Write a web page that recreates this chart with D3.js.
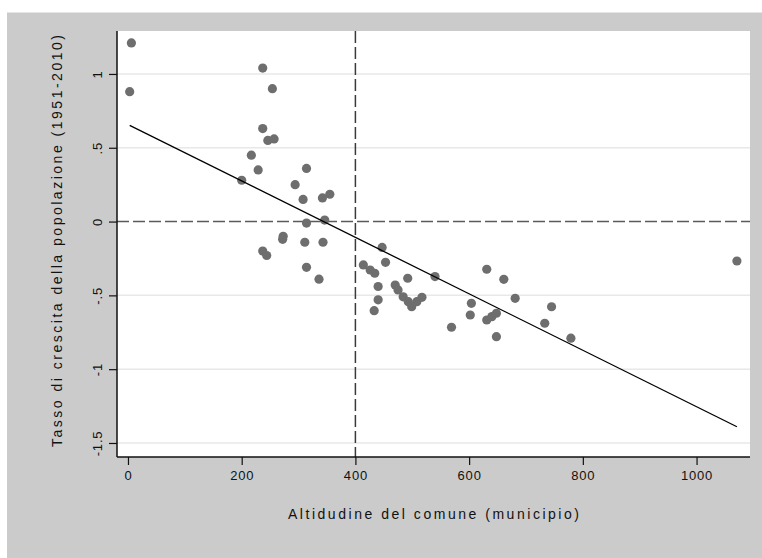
<!DOCTYPE html>
<html>
<head>
<meta charset="utf-8">
<script src="https://cdn.jsdelivr.net/npm/d3@7"></script>
<style>
  html, body { margin: 0; padding: 0; background: #fff; }
  text { font-family: "Liberation Sans", Arial, sans-serif; fill: #111; }
</style>
</head>
<body>
<div id="chart"></div>
<script>
const WIDTH = 762;
const HEIGHT = 558;

// plot box (white area)
const LEFT = 117, RIGHT = 750, TOP = 31, BOTTOM = 457;

// altitude (m) of each comune
const altitude = [
  6, 3, 237, 254, 237, 246, 257, 217, 229, 314,
  200, 294, 308, 342, 355, 314, 346, 273, 272, 311,
  343, 237, 244, 314, 336, 447, 453, 414, 426, 434,
  440, 440, 433, 470, 475, 484, 493, 499, 508, 517,
  492, 540, 604, 602, 569, 631, 661, 681, 631, 640,
  648, 648, 733, 745, 779, 1071
];

// population growth rate 1951-2010
const growth = [
  1.21, 0.88, 1.04, 0.90, 0.63, 0.55, 0.56, 0.45, 0.35, 0.36,
  0.28, 0.25, 0.15, 0.16, 0.185, -0.01, 0.01, -0.10, -0.12, -0.14,
  -0.14, -0.20, -0.23, -0.31, -0.39, -0.175, -0.276, -0.294, -0.328, -0.35,
  -0.44, -0.53, -0.604, -0.43, -0.463, -0.51, -0.543, -0.577, -0.543, -0.513,
  -0.384, -0.373, -0.554, -0.633, -0.716, -0.323, -0.391, -0.52, -0.667, -0.644,
  -0.621, -0.78, -0.689, -0.577, -0.79, -0.267
];

// fitted line end points
const fitX = [3, 1071];
const fitY = [0.652, -1.39];

const xTicks = [0, 200, 400, 600, 800, 1000];
const yTicks = [-1.5, -1, -0.5, 0, 0.5, 1];
const yTickLabels = ["-1.5", "-1", "-.5", "0", ".5", "1"];

const refX = 400;   // vertical dashed line
const refY = 0;     // horizontal dashed line

const xTitle = "Altidudine del comune (municipio)";
const yTitle = "Tasso di crescita della popolazione (1951-2010)";

const svg = d3.select("#chart")
  .append("svg")
  .attr("width", WIDTH)
  .attr("height", HEIGHT);

// outer gray panel
svg.append("rect")
  .attr("x", 0).attr("y", 0)
  .attr("width", WIDTH).attr("height", HEIGHT)
  .attr("fill", "#ffffff");
svg.append("rect")
  .attr("x", 7).attr("y", 12)
  .attr("width", WIDTH - 7).attr("height", 2)
  .attr("fill", "#e6e6e6");
svg.append("rect")
  .attr("x", 7).attr("y", 13)
  .attr("width", WIDTH - 7).attr("height", HEIGHT - 13)
  .attr("fill", "#cbcbcb");

svg.append("rect")
  .attr("x", LEFT).attr("y", TOP)
  .attr("width", RIGHT - LEFT).attr("height", BOTTOM - TOP)
  .attr("fill", "#ffffff");

const x = d3.scaleLinear()
  .domain([-19.3, 1094])
  .range([LEFT, RIGHT]);

const y = d3.scaleLinear()
  .domain([-1.595, 1.291])
  .range([BOTTOM, TOP]);

// light grid lines
svg.append("g")
  .selectAll("line")
  .data(yTicks.filter(d => d !== refY))
  .enter()
  .append("line")
  .attr("x1", LEFT).attr("x2", RIGHT)
  .attr("y1", d => y(d)).attr("y2", d => y(d))
  .attr("stroke", "#e8e8e8")
  .attr("stroke-width", 1.5);

// reference dashed lines
svg.append("line")
  .attr("x1", LEFT).attr("x2", RIGHT)
  .attr("y1", y(refY)).attr("y2", y(refY))
  .attr("stroke", "#5a5a5a")
  .attr("stroke-width", 1.5)
  .attr("stroke-dasharray", "12,4");

svg.append("line")
  .attr("x1", x(refX)).attr("x2", x(refX))
  .attr("y1", TOP).attr("y2", BOTTOM)
  .attr("stroke", "#3a3a3a")
  .attr("stroke-width", 1.5)
  .attr("stroke-dasharray", "12,4");

// axes
const xAxis = d3.axisBottom(x)
  .tickValues(xTicks)
  .tickSize(8)
  .tickPadding(6)
  .tickFormat(d3.format("d"));

const gx = svg.append("g")
  .attr("transform", `translate(0,${BOTTOM})`)
  .call(xAxis);
gx.select(".domain").remove();
gx.selectAll("line").attr("stroke", "#111").attr("stroke-width", 1.2);
gx.selectAll("text")
  .style("font-size", "13px")
  .style("letter-spacing", "0.8px")
  .style("fill", "#111");

const yAxis = d3.axisLeft(y)
  .tickValues(yTicks)
  .tickSize(8)
  .tickFormat((d, i) => yTickLabels[i]);

const gy = svg.append("g")
  .attr("transform", `translate(${LEFT},0)`)
  .call(yAxis);
gy.select(".domain").remove();
gy.selectAll("line").attr("stroke", "#111").attr("stroke-width", 1.2);
gy.selectAll("text")
  .attr("x", 0).attr("dy", 0)
  .attr("transform", "translate(-15,0) rotate(-90)")
  .attr("text-anchor", "middle")
  .style("font-size", "13px")
  .style("letter-spacing", "0.8px")
  .style("fill", "#111");

// axis lines
svg.append("line")
  .attr("x1", LEFT).attr("x2", RIGHT)
  .attr("y1", BOTTOM).attr("y2", BOTTOM)
  .attr("stroke", "#111").attr("stroke-width", 1.5);
svg.append("line")
  .attr("x1", LEFT).attr("x2", LEFT)
  .attr("y1", TOP).attr("y2", BOTTOM)
  .attr("stroke", "#111").attr("stroke-width", 1.5);

// scatter points
const points = altitude.map((a, i) => ({ alt: a, rate: growth[i] }));

svg.append("g")
  .selectAll("circle")
  .data(points)
  .enter()
  .append("circle")
  .attr("cx", d => x(d.alt))
  .attr("cy", d => y(d.rate))
  .attr("r", 4.6)
  .attr("fill", "#6e6e6e");

// fitted line
svg.append("line")
  .attr("x1", x(fitX[0])).attr("y1", y(fitY[0]))
  .attr("x2", x(fitX[1])).attr("y2", y(fitY[1]))
  .attr("stroke", "#000")
  .attr("stroke-width", 1.3);

// titles
svg.append("text")
  .attr("x", (LEFT + RIGHT) / 2)
  .attr("y", 519)
  .attr("text-anchor", "middle")
  .attr("textLength", 291)
  .attr("lengthAdjust", "spacing")
  .style("font-size", "14px")
  .text(xTitle);

svg.append("text")
  .attr("transform", `translate(62,${(TOP + BOTTOM) / 2 - 3}) rotate(-90)`)
  .attr("text-anchor", "middle")
  .attr("textLength", 412)
  .attr("lengthAdjust", "spacing")
  .style("font-size", "14px")
  .text(yTitle);
</script>
</body>
</html>
